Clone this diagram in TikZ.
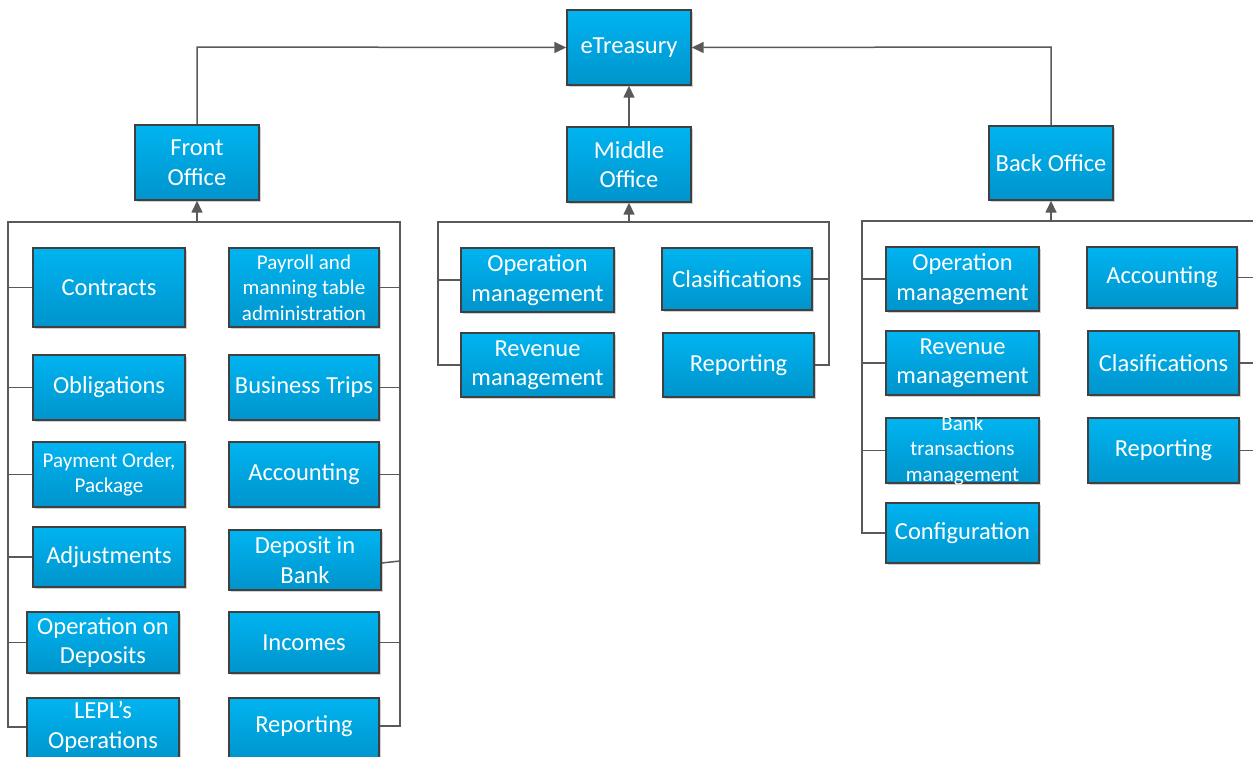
\documentclass[tikz,border=0pt]{standalone}
\usepackage{fontspec}
\setmainfont{Carlito}
\usetikzlibrary{arrows.meta,shadows}
\definecolor{boxtop}{HTML}{00B4F0}
\definecolor{boxbot}{HTML}{0094CC}
\definecolor{boxedge}{HTML}{404040}
\definecolor{linec}{HTML}{595959}
\tikzset{
  box/.style={rectangle, draw=boxedge, line width=1.4pt, top color=boxtop, bottom color=boxbot, inner sep=0pt,
    drop shadow={shadow xshift=2pt, shadow yshift=-2pt, opacity=0.18, fill=black}},
  txt/.style={align=center, text=white, inner sep=0pt, font=\fontsize{24.5}{29.5}\selectfont},
  smalltxt/.style={txt, font=\fontsize{21}{25.5}\selectfont},
  ln/.style={draw=linec, line width=1.5pt},
  arr/.style={ln, -{Triangle[length=12pt,width=11pt]}}
}
% \mkbox[text style]{name}{x1}{y1}{x2}{y2}{text}
\newcommand\mkbox[7][txt]{%
  \node[box, minimum width={#5-#3}, minimum height={#6-#4}] (#2) at ({(#3+#5)/2},{(#4+#6)/2}) {};
  \node[#1] (#2t) at (#2.center) {#7};}
\begin{document}
\begin{tikzpicture}[x=1pt,y=-1pt]
\useasboundingbox (0,0) rectangle (1253,756);
\clip (0,0) rectangle (1253,756);
\fill[white] (0,0) rectangle (1253,756);

% coordinates for bus lines
\coordinate (fL) at (8,222);
\coordinate (fR) at (400,222);
\coordinate (fA) at (197,222);
\coordinate (mL) at (438,222);
\coordinate (mR) at (829,222);
\coordinate (mA) at (629,222);
\coordinate (bL) at (862,221);
\coordinate (bR) at (1262,221);
\coordinate (bA) at (1051,221);
\coordinate (tl) at (197,47);
\coordinate (tr) at (1051,47);

% top level
\mkbox{et}{567}{10}{691}{85}{eTreasury}
\mkbox{fo}{135}{125}{259}{200}{Front\\Office}
\mkbox{mo}{567}{127}{691}{202}{Middle\\Office}
\mkbox{bo}{989}{126}{1113}{200}{Back Office}

% front office children
\mkbox{c1}{33}{248}{185}{327}{Contracts}
\mkbox{c2}{33}{355}{185}{420}{Obligations}
\mkbox[smalltxt]{c3}{33}{442}{185}{507}{Payment Order,\\Package}
\mkbox{c4}{33}{527}{185}{587}{Adjustments}
\mkbox{c5}{27}{612}{179}{673}{Operation on\\Deposits}
\node[box, minimum width=152pt, minimum height=64pt] (c6) at (103,730) {};
\node[txt] (c6t) at (103,727) {LEPL’s\\Operations};

\mkbox[smalltxt]{d1}{229}{248}{379}{327}{Payroll and\\manning table\\administration}
\mkbox{d2}{229}{355}{379}{420}{Business Trips}
\mkbox{d3}{229}{442}{379}{507}{Accounting}
\mkbox{d4}{229}{530}{381}{590}{Deposit in\\Bank}
\mkbox{d5}{229}{612}{379}{673}{Incomes}
\node[box, minimum width=150pt, minimum height=62pt] (d6) at (304,729) {};
\node[txt] (d6t) at (304,726) {Reporting};

% middle office children
\mkbox{m1}{461}{248}{614}{312}{Operation\\management}
\mkbox{m2}{461}{333}{614}{397}{Revenue\\management}
\mkbox{m3}{662}{248}{812}{310}{Clasifications}
\mkbox{m4}{663}{333}{814}{397}{Reporting}

% back office children
\mkbox{b1}{886}{247}{1039}{311}{Operation\\management}
\mkbox{b2}{886}{331}{1039}{395}{Revenue\\management}
\mkbox[smalltxt]{b3}{886}{418}{1039}{483}{Bank\\transactions\\management}
\mkbox{b4}{886}{503}{1039}{563}{Configuration}
\mkbox{b5}{1087}{247}{1237}{308}{Accounting}
\mkbox{b6}{1088}{331}{1239}{395}{Clasifications}
\mkbox{b7}{1088}{418}{1239}{483}{Reporting}

% top connectors
\draw[arr] (fo.north) -- (tl) -- (et.west);
\draw[arr] (bo.north) -- (tr) -- (et.east);
\draw[arr] (mo.north) -- (et.south);

% front bus
\draw[ln] (c6.west |- 0,727) -| (fL) -- (fR) |- (d6.east |- 0,726);
\draw[arr] (fA) -- (fo.south);
\foreach \n in {c1,c2,c3,c4,c5} \draw[ln] (\n.west) -- (\n.west -| fL);
\foreach \n in {d1,d2,d3,d5} \draw[ln] (\n.east) -- (\n.east -| fR);
\draw[ln] ([yshift=-3pt]d4.east) -- ([yshift=-1pt]d4.east -| fR);

% middle bus
\draw[ln] (m2.west) -| (mL) -- (mR) |- (m4.east);
\draw[arr] (mA) -- (mo.south);
\draw[ln] (m1.west) -- (m1.west -| mL);
\draw[ln] (m3.east) -- (m3.east -| mR);

% back bus
\draw[ln] (b4.west) -| (bL) -- (bR) |- (b7.east);
\draw[arr] (bA) -- (bo.south);
\foreach \n in {b1,b2,b3} \draw[ln] (\n.west) -- (\n.west -| bL);
\foreach \n in {b5,b6} \draw[ln] (\n.east) -- (\n.east -| bR);
\end{tikzpicture}
\end{document}
